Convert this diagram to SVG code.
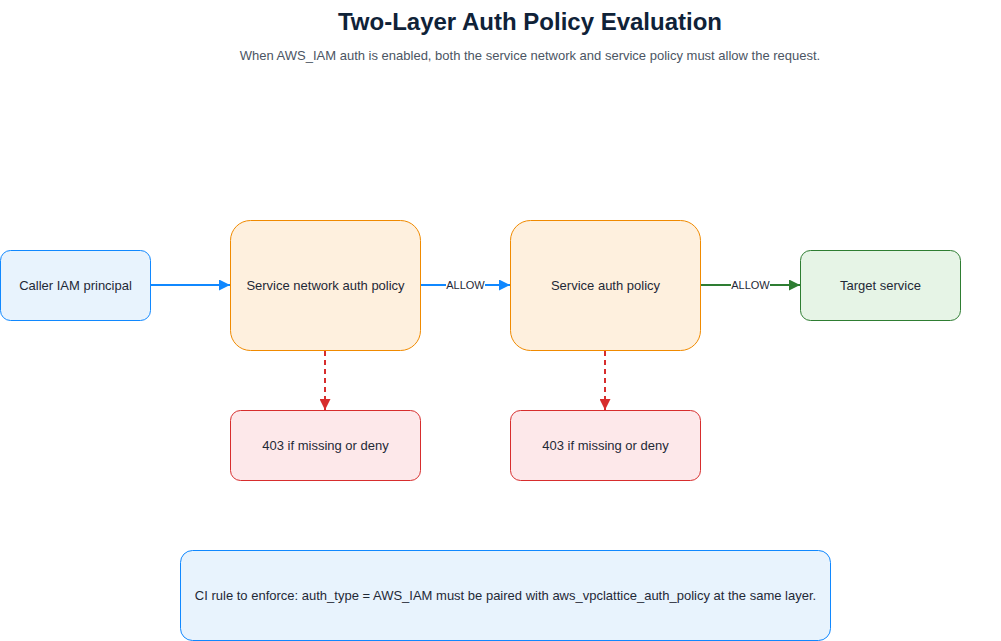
<svg xmlns="http://www.w3.org/2000/svg" width="1001" height="641" viewBox="0 0 1001 641">
<style>
text{font-family:"Liberation Sans",Arial,sans-serif;fill:#1f2937;text-anchor:middle;dominant-baseline:central}
.n{font-size:13px}
.l{font-size:11px}
.blue{fill:#e8f3fd;stroke:#1088ff}
.org{fill:#fef0de;stroke:#f08a00}
.red{fill:#fde8ea;stroke:#d72d2d}
.grn{fill:#e6f4e6;stroke:#2e7d32}
</style>
<defs>
<marker id="ab" viewBox="0 0 10 10" refX="10" refY="5" markerWidth="11" markerHeight="11" markerUnits="userSpaceOnUse" orient="auto"><path d="M0,0L10,5L0,10z" fill="#1088ff"/></marker>
<marker id="ag" viewBox="0 0 10 10" refX="10" refY="5" markerWidth="11" markerHeight="11" markerUnits="userSpaceOnUse" orient="auto"><path d="M0,0L10,5L0,10z" fill="#2e7d32"/></marker>
<marker id="ar" viewBox="0 0 10 10" refX="10" refY="5" markerWidth="11" markerHeight="11" markerUnits="userSpaceOnUse" orient="auto"><path d="M0,0L10,5L0,10z" fill="#d72d2d"/></marker>
</defs>
<rect width="1001" height="641" fill="#fff"/>
<text x="530" y="21" style="font-size:24px;font-weight:bold;fill:#0f2238">Two-Layer Auth Policy Evaluation</text>
<text x="530" y="55" style="font-size:13px;fill:#4b5563">When AWS_IAM auth is enabled, both the service network and service policy must allow the request.</text>
<g id="connectors" fill="none" stroke-width="2">
<line x1="151" y1="285" x2="230" y2="285" stroke="#1088ff" marker-end="url(#ab)"/>
<line x1="421" y1="285" x2="510" y2="285" stroke="#1088ff" marker-end="url(#ab)"/>
<line x1="701" y1="285" x2="800" y2="285" stroke="#2e7d32" marker-end="url(#ag)"/>
<line x1="325" y1="351" x2="325" y2="410" stroke="#d72d2d" stroke-dasharray="5,4" marker-end="url(#ar)"/>
<line x1="605" y1="351" x2="605" y2="410" stroke="#d72d2d" stroke-dasharray="5,4" marker-end="url(#ar)"/>
<rect x="446" y="278" width="39" height="14" fill="#fff" stroke="none"/>
<text class="l" x="465.500" y="285">ALLOW</text>
<rect x="731" y="278" width="39" height="14" fill="#fff" stroke="none"/>
<text class="l" x="750.500" y="285">ALLOW</text>
</g>
<g id="caller"><rect class="blue" x="0.500" y="250.500" width="150" height="70" rx="10"/><text class="n" x="75.500" y="285.500">Caller IAM principal</text></g>
<g id="snpolicy"><rect class="org" x="230.500" y="220.500" width="190" height="130" rx="20"/><text class="n" x="325.500" y="285.500">Service network auth policy</text></g>
<g id="spolicy"><rect class="org" x="510.500" y="220.500" width="190" height="130" rx="20"/><text class="n" x="605.500" y="285.500">Service auth policy</text></g>
<g id="target"><rect class="grn" x="800.500" y="250.500" width="160" height="70" rx="10"/><text class="n" x="880.500" y="285.500">Target service</text></g>
<g id="deny1"><rect class="red" x="230.500" y="410.500" width="190" height="70" rx="10"/><text class="n" x="325.500" y="445.500">403 if missing or deny</text></g>
<g id="deny2"><rect class="red" x="510.500" y="410.500" width="190" height="70" rx="10"/><text class="n" x="605.500" y="445.500">403 if missing or deny</text></g>
<g id="ci"><rect class="blue" x="180.500" y="550.500" width="650" height="90" rx="12"/><text class="n" x="505.500" y="595.500">CI rule to enforce: auth_type = AWS_IAM must be paired with aws_vpclattice_auth_policy at the same layer.</text></g>
</svg>
